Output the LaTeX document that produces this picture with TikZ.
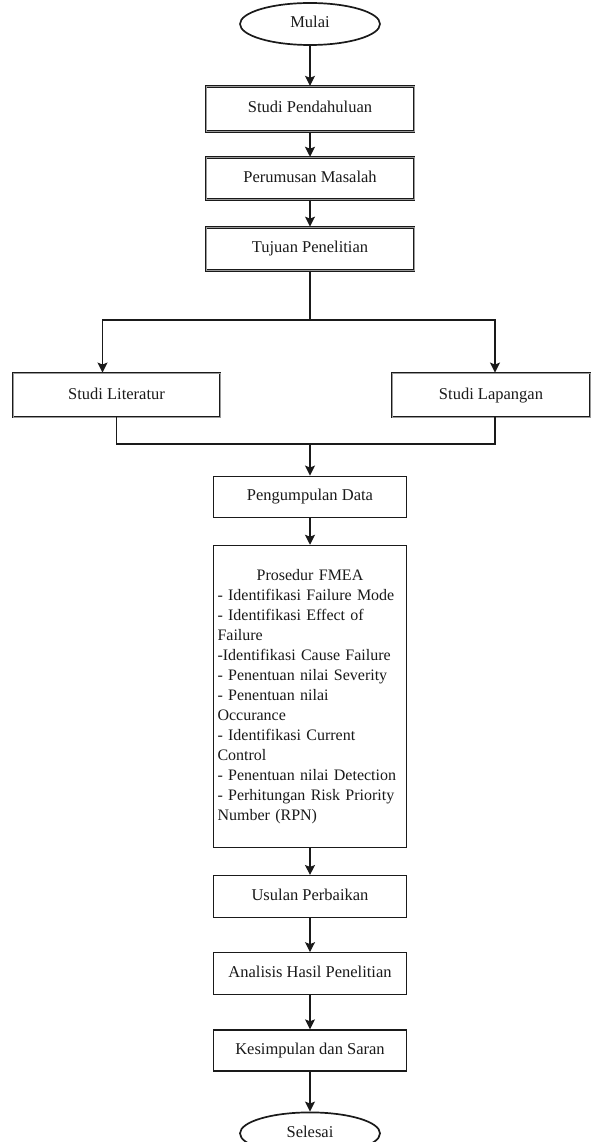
\documentclass[tikz,border=0pt]{standalone}
\usepackage{fontspec}
\setmainfont{Liberation Serif}
\usetikzlibrary{arrows.meta,positioning,shapes.geometric}
\definecolor{Ink}{HTML}{1A1A1A}
\definecolor{Seam}{HTML}{9A9A9A}

\begin{document}
\begin{tikzpicture}[x=1pt,y=-1pt,
  font=\fontsize{16.5}{20}\selectfont,text=Ink,
  oneline/.style={text height=11.5pt,text depth=3.5pt},
  terminal/.style={ellipse,draw=Ink,line width=1.7pt,minimum width=140pt,minimum height=42pt,inner sep=0pt,oneline},
  heavybox/.style={draw=Ink,line width=0.9pt,double=Seam,double distance=1pt,fill=white,
    minimum width=208pt,minimum height=43pt,inner sep=2pt,oneline},
  plainbox/.style={draw=Ink,line width=1.2pt,fill=white,minimum width=193pt,minimum height=41pt,inner sep=2pt},
  line/.style={draw=Ink,line width=1.2pt},
  arrow/.style={line,-{Stealth[length=10pt,width=10pt,inset=2pt]}}]
\useasboundingbox (0,0) rectangle (596,1142);
% top part
\node[terminal](start) at (310,24){Mulai};
\node[heavybox,below=40pt of start,minimum height=45pt](pend){Studi Pendahuluan};
\node[heavybox,below=25pt of pend,minimum height=42pt](rumus){Perumusan Masalah};
\node[heavybox,below=27pt of rumus](tujuan){Tujuan Penelitian};
\draw[arrow](start)--(pend);\draw[arrow](pend)--(rumus);\draw[arrow](rumus)--(tujuan);
% branch into two studies
\node[heavybox,minimum width=207pt,minimum height=44pt](literatur) at (116.5,395){Studi Literatur};
\node[heavybox,minimum width=198pt,minimum height=44pt](lapangan) at (491,395){Studi Lapangan};
\coordinate (split) at (310,320);
\coordinate (merge) at (310,444);
\draw[line](tujuan.south)--(split);
\draw[arrow](split)-|([xshift=-14pt]literatur.north);
\draw[arrow](split)-|([xshift=4pt]lapangan.north);
\draw[line](literatur.south)|-(merge)-|([xshift=4pt]lapangan.south);
% lower part
\node[plainbox,oneline,below=205pt of tujuan](data){Pengumpulan Data};
\node[plainbox,below=27pt of data,minimum height=302pt,text width=185pt,align=left,inner sep=4pt,
  font=\fontsize{16}{20}\selectfont](fmea){%
  \hfill Prosedur FMEA\hfill\null\\
  - Identifikasi Failure Mode\\
  - Identifikasi Effect of\\
  Failure\\
  -Identifikasi Cause Failure\\
  - Penentuan nilai Severity\\
  - Penentuan nilai\\
  Occurance\\
  - Identifikasi Current\\
  Control\\
  - Penentuan nilai Detection\\
  - Perhitungan Risk Priority\\
  Number (RPN)};
\node[plainbox,oneline,below=27pt of fmea,minimum height=42pt](usulan){Usulan Perbaikan};
\node[plainbox,oneline,below=34pt of usulan,minimum height=42pt](analisis){Analisis Hasil Penelitian};
\node[plainbox,oneline,below=34pt of analisis](simpul){Kesimpulan dan Saran};
\node[terminal,below=40pt of simpul](finish){Selesai};
\draw[arrow](merge)--(data);\draw[arrow](data)--(fmea);\draw[arrow](fmea)--(usulan);
\draw[arrow](usulan)--(analisis);\draw[arrow](analisis)--(simpul);\draw[arrow](simpul)--(finish);
\end{tikzpicture}
\end{document}
